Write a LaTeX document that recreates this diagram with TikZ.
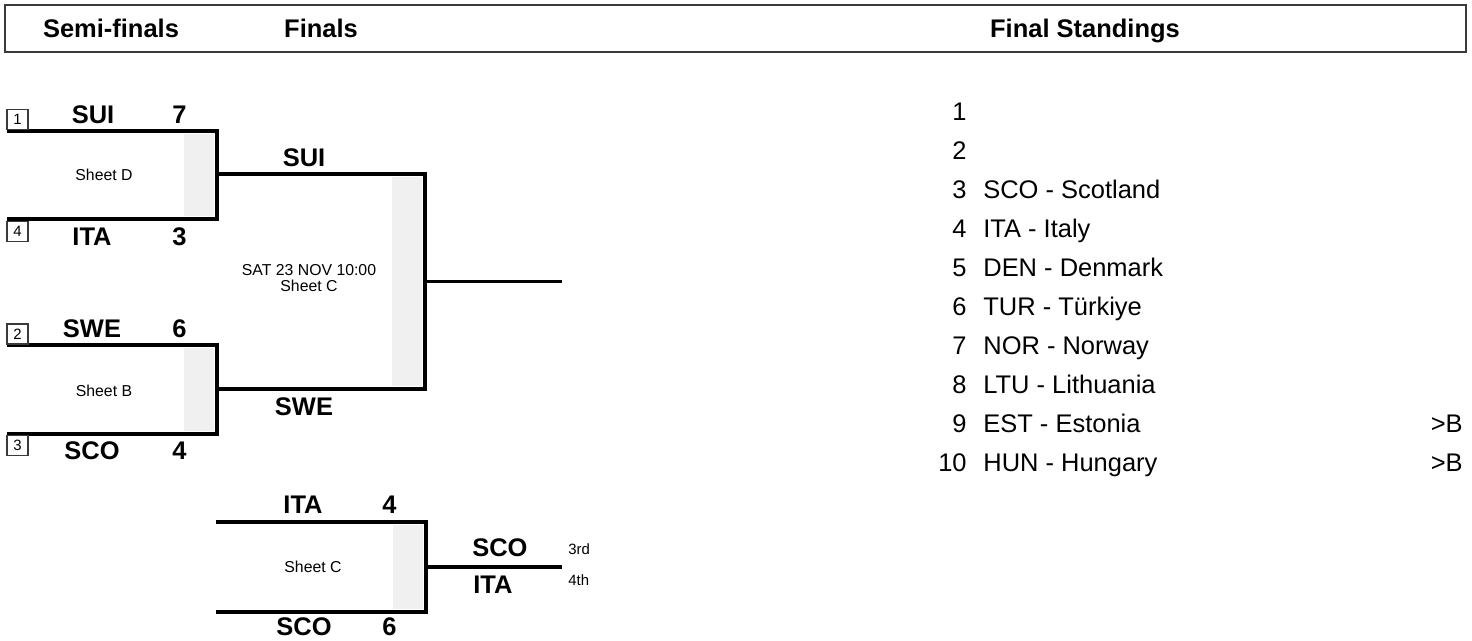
\documentclass[tikz,border=0pt]{standalone}
\usepackage{fontspec}
\setmainfont{Liberation Sans}
\usepackage{xcolor}
\usepackage{tikz}
\usetikzlibrary{calc}
\definecolor{frame}{HTML}{3A3A3A}
\definecolor{boxgray}{HTML}{F0F0F0}
\tikzset{
  head/.style={font=\fontsize{14.5}{17}\selectfont\bfseries, inner sep=0pt, anchor=base},
  team/.style={font=\fontsize{14.5}{17}\selectfont\bfseries, inner sep=0pt, anchor=base},
  score/.style={team, anchor=base east},
  teamr/.style={team, anchor=base west},
  info/.style={font=\fontsize{9}{9.3}\selectfont, inner sep=0pt, align=center},
  place/.style={font=\fontsize{8.5}{10}\selectfont, inner sep=0pt, anchor=west},
  seed/.style={draw=frame, line width=0.6pt, minimum width=0.42cm, minimum height=0.4cm,
    inner sep=0pt, font=\fontsize{8.5}{10}\selectfont},
  bline/.style={draw=black, line width=1.9pt, line join=miter},
  rank/.style={font=\fontsize{14.5}{17}\selectfont, inner sep=0pt, anchor=base east},
  entry/.style={font=\fontsize{14.5}{17}\selectfont, inner sep=0pt, anchor=base west},
}
\begin{document}
\begin{tikzpicture}[x=0.02cm, y=-0.02cm]
  \useasboundingbox (0,0) rectangle (1472,640);

  \draw[frame, line width=0.8pt] (5,5) rectangle (1466,52);
  \node[head] (hsemi) at (111,37) {Semi-finals};
  \node[head] (hfin) at (321,37) {Finals};
  \node[head] (hstand) at (1085,37) {Final Standings};

  \foreach \m/\l/\r/\t/\b in {sf1/7/217/131/219, sf2/7/217/345/434, fin/217/425/174/389, bronze/216/426/522/612}{
    \fill[boxgray] (\r-33,\t+3) rectangle (\r-3,\b-3);
    \coordinate (\m-tl) at (\l,\t);
    \coordinate (\m-tr) at (\r,\t);
    \coordinate (\m-br) at (\r,\b);
    \coordinate (\m-bl) at (\l,\b);
    \coordinate (\m-out) at (\r,{(\t+\b)/2});
    \draw[bline] (\m-tl) -- (\m-tr) -- (\m-br) -- (\m-bl);
  }
  \coordinate (champ) at ($(fin-out)+(137,0)$);
  \draw[bline] (fin-out) -- (champ);
  \coordinate (third) at ($(bronze-out)+(136,0)$);
  \draw[bline] (bronze-out) -- (third);

  \foreach \s/\y in {1/119.5, 4/231.5, 2/334, 3/445.5}
    \node[seed] (seed\s) at (17.5,\y) {\s};

  \foreach \n/\x/\y/\txt in {t1/93/123/SUI, t4/92/245/ITA, t2/92/337/SWE, t3/92/459/SCO,
    f1/304/166/SUI, f2/304/415/SWE, b1/303/513/ITA, b2/304/635/SCO}
    \node[team] (\n) at (\x,\y) {\txt};
  \foreach \n/\x/\y/\txt in {s1/187/123/7, s4/187/245/3, s2/187/337/6, s3/187/459/4,
    sb1/397/513/4, sb2/397/635/6}
    \node[score] (\n) at (\x,\y) {\txt};

  \node[teamr] (w3) at (472,556) {SCO};
  \node[teamr] (w4) at (473,593) {ITA};
  \node[place] (p3) at (568,549) {3rd};
  \node[place] (p4) at (568,580) {4th};

  \node[info] (sheetd) at (104,175) {Sheet D};
  \node[info] (sheetb) at (104,391) {Sheet B};
  \node[info] (sheetf) at (309,278) {SAT 23 NOV 10:00\\Sheet C};
  \node[info] (sheetc) at (313,567) {Sheet C};

  \foreach \i in {1,...,10}
    \node[rank] (rk\i) at (967,{120+39*(\i-1)}) {\i};
  \foreach \i/\txt in {3/SCO - Scotland, 4/ITA - Italy, 5/DEN - Denmark, 6/TUR - Türkiye,
    7/NOR - Norway, 8/LTU - Lithuania, 9/EST - Estonia, 10/HUN - Hungary}
    \node[entry] (st\i) at (983,{120+39*(\i-1)}) {\txt};
  \foreach \i in {9,10}
    \node[rank] (q\i) at (1463,{120+39*(\i-1)}) {>B};
\end{tikzpicture}
\end{document}
